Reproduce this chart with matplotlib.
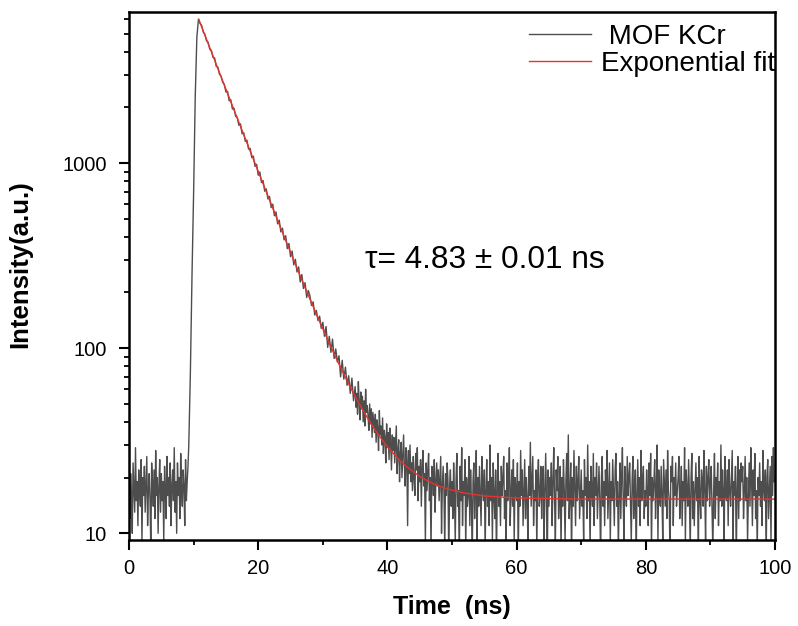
import matplotlib
matplotlib.use("Agg")
import matplotlib.pyplot as plt
import numpy as np

plt.rcParams['font.family'] = ['Liberation Sans', 'DejaVu Sans']

# photon counts, kept in segments with their own channel width

# 0 - 9.125 ns, background before the pulse (0.125 ns channels)
pre_start, pre_step = 0.0, 0.125
counts_pre = [27, 12, 21, 16, 10, 24, 18, 13, 29, 15, 19, 11, 22, 17, 14, 25, 9, 20, 16, 23,
              13, 18, 26, 11, 17, 21, 15, 8, 24, 19, 14, 22, 12, 28, 16, 20, 10, 18, 25, 13,
              21, 15, 19, 9, 23, 17, 12, 26, 16, 20, 14, 24, 11, 18, 22, 15, 29, 13, 19, 10,
              24, 16, 20, 12, 27, 17, 14, 22, 18, 11, 25, 15, 19, 23]

# rising edge
time_rise = [9.25, 9.5, 9.75, 10.0, 10.25, 10.5, 10.75]
counts_rise = [30, 75, 250, 700, 2300, 4800, 6000]

# 11 - 34.75 ns, fast part of the decay (0.25 ns channels, one ns per row)
fast_start, fast_step = 11.0, 0.25
counts_fast = [5680, 5530, 5090, 4960,
               4580, 4490, 4120, 4060,
               3720, 3700, 3330, 3300,
               3020, 2950, 2730, 2660,
               2420, 2440, 2170, 2200,
               1960, 1980, 1790, 1770,
               1600, 1630, 1440, 1460,
               1310, 1330, 1190, 1200,
               1070, 1090, 960, 985,
               860, 895, 785, 805,
               705, 725, 640, 660,
               575, 600, 520, 545,
               470, 492, 425, 445,
               385, 405, 345, 368,
               312, 335, 282, 302,
               258, 275, 228, 250,
               210, 226, 188, 205,
               192, 170, 178, 151,
               160, 141, 149, 128,
               138, 116, 131, 101,
               116, 95, 112, 88,
               99, 84, 91, 70,
               86, 68, 79, 63,
               71, 57, 69, 52]

# 35 - 49.875 ns, slow tail of the decay (0.125 ns channels, one ns per row)
slow_start, slow_step = 35.0, 0.125
counts_slow = [62, 48, 57, 44, 66, 51, 41, 58,
               47, 55, 40, 52, 38, 60, 45, 49,
               43, 36, 50, 39, 47, 33, 45, 40,
               35, 44, 31, 41, 37, 28, 46, 34,
               38, 30, 42, 27, 36, 33, 24, 39,
               29, 35, 25, 37, 31, 22, 34, 28,
               33, 24, 30, 38, 21, 28, 32, 19,
               27, 31, 20, 26, 34, 23, 18, 29,
               25, 11, 28, 21, 30, 19, 24, 17,
               26, 20, 16, 27, 22, 29, 15, 23,
               19, 25, 14, 23, 28, 18, 21, 9,
               24, 17, 22, 27, 15, 20, 8, 23,
               21, 16, 25, 13, 19, 24, 18, 22,
               15, 20, 26, 10, 18, 23, 17, 8,
               21, 16, 24, 19, 7, 18, 22, 14]

# 50 - 99.875 ns, background after the decay (0.125 ns channels)
tail_start, tail_step = 50.0, 0.125
counts_tail = [19, 12, 24, 16, 9, 20, 27, 14, 17, 7, 23, 15, 29, 11, 19, 16, 25, 8, 20, 14,
               16, 26, 11, 22, 15, 7, 19, 24, 12, 17, 28, 9, 20, 14, 23, 16, 11, 26, 17, 15,
               22, 8, 17, 25, 14, 19, 11, 30, 15, 20, 9, 24, 16, 12, 22, 7, 17, 27, 14, 19,
               11, 23, 16, 20, 26, 12, 17, 8, 24, 15, 19, 29, 11, 16, 22, 14, 25, 9, 20, 17,
               15, 24, 7, 19, 14, 28, 16, 22, 11, 17, 25, 12, 20, 15, 9, 23, 16, 31, 14, 19,
               26, 11, 17, 15, 22, 8, 20, 25, 14, 16, 23, 12, 19, 23, 9, 17, 27, 15, 7, 22,
               14, 20, 16, 24, 11, 19, 29, 15, 9, 22, 17, 26, 12, 16, 23, 8, 20, 14, 25, 17,
               9, 19, 27, 15, 34, 12, 16, 24, 7, 20, 14, 28, 17, 11, 23, 15, 19, 26, 12, 16,
               22, 14, 17, 9, 25, 16, 20, 12, 30, 15, 19, 8, 23, 17, 14, 27, 11, 20, 16, 24,
               12, 17, 23, 15, 7, 20, 26, 14, 19, 11, 22, 16, 28, 12, 17, 24, 9, 19, 15, 25,
               17, 11, 22, 27, 14, 19, 8, 16, 24, 12, 20, 29, 15, 9, 23, 17, 14, 26, 16, 20,
               24, 15, 9, 19, 26, 12, 17, 22, 7, 16, 25, 14, 20, 11, 28, 15, 19, 23, 12, 17,
               14, 22, 17, 11, 24, 16, 27, 8, 20, 15, 19, 25, 12, 17, 30, 9, 22, 16, 14, 23,
               16, 9, 25, 19, 14, 22, 12, 28, 17, 15, 7, 23, 19, 26, 11, 20, 16, 24, 14, 17,
               20, 26, 12, 16, 23, 11, 19, 15, 29, 9, 22, 17, 14, 25, 16, 8, 20, 27, 12, 19,
               11, 17, 24, 15, 20, 7, 26, 16, 12, 22, 19, 14, 28, 17, 9, 23, 15, 20, 25, 14,
               19, 23, 14, 8, 17, 27, 12, 20, 16, 24, 11, 19, 15, 30, 14, 22, 17, 9, 26, 16,
               15, 22, 11, 25, 17, 14, 20, 28, 9, 19, 16, 23, 7, 17, 26, 12, 22, 15, 24, 19,
               23, 12, 17, 26, 15, 20, 9, 16, 24, 14, 29, 19, 11, 22, 16, 27, 12, 17, 8, 20,
               16, 24, 14, 19, 11, 28, 17, 15, 22, 7, 20, 25, 12, 17, 23, 9, 26, 16, 29, 19]

# exponential fit
fit_time = [10.8, 11, 12, 13, 14, 15, 16, 17, 18, 19, 20,
            21, 22, 23, 24, 25, 26, 27, 28, 29, 30,
            31, 32, 33, 34, 35, 36, 37, 38, 39, 40,
            41, 42, 43, 44, 45, 46, 47, 48, 49, 50,
            52, 55, 60, 70, 80, 90, 100]
fit_counts = [5965, 5723, 4656, 3788, 3082, 2509, 2042, 1663, 1355, 1105, 901,
              735.5, 601, 491, 402, 330, 271, 223, 184.4, 152.8, 127.1,
              106.2, 89.2, 75.4, 64.1, 55.0, 47.6, 41.5, 36.6, 32.6, 29.4,
              26.8, 24.6, 22.9, 21.5, 20.3, 19.4, 18.6, 18.0, 17.5, 17.1,
              16.5, 15.9, 15.5, 15.3, 15.3, 15.3, 15.3]

time = np.concatenate([
    pre_start + pre_step * np.arange(len(counts_pre)),
    time_rise,
    fast_start + fast_step * np.arange(len(counts_fast)),
    slow_start + slow_step * np.arange(len(counts_slow)),
    tail_start + tail_step * np.arange(len(counts_tail)),
])
counts = np.concatenate([counts_pre, counts_rise, counts_fast, counts_slow, counts_tail])

fig = plt.figure(figsize=(7.98, 6.26), dpi=100)
ax = fig.add_axes([0.1617, 0.1374, 0.8095, 0.8434])

ax.plot(time, counts, color='#4d4d4d', lw=1.0, label=' MOF KCr')
ax.plot(fit_time, fit_counts, color='#e8322c', lw=1.0, label='Exponential fit')

ax.set_yscale('log')
ax.set_xlim(0, 100)
ax.set_ylim(9.2, 6550)
ax.set_xticks([0, 20, 40, 60, 80, 100])
ax.set_xticks([10, 30, 50, 70, 90], minor=True)
ax.set_yticks([10, 100, 1000])
ax.set_yticklabels(['10', '100', '1000'])

ax.tick_params(which='major', direction='out', length=7, width=1.5, labelsize=14.5)
ax.tick_params(which='minor', direction='out', length=3.5, width=1.3)
ax.tick_params(axis='x', which='major', pad=7)
ax.tick_params(axis='y', which='major', pad=9)
ax.tick_params(axis='y', which='minor', labelleft=False)
for s in ax.spines.values():
    s.set_linewidth(1.8)

ax.set_xlabel('Time  (ns)', fontsize=18, fontweight='bold')
ax.set_ylabel('Intensity(a.u.)', fontsize=18.5, fontweight='bold')
ax.xaxis.set_label_coords(0.5, -0.105)
ax.yaxis.set_label_coords(-0.15, 0.523)

ax.text(36.5, 300, 'τ= 4.83 ± 0.01 ns', fontsize=22.8, va='center', ha='left')

ax.legend(loc='upper right', bbox_to_anchor=(1.0, 0.978), frameon=False,
          fontsize=20, handlelength=2.25, handletextpad=0.35, labelspacing=0.05,
          borderpad=0, borderaxespad=0)

fig.savefig('out.png', dpi=100)
